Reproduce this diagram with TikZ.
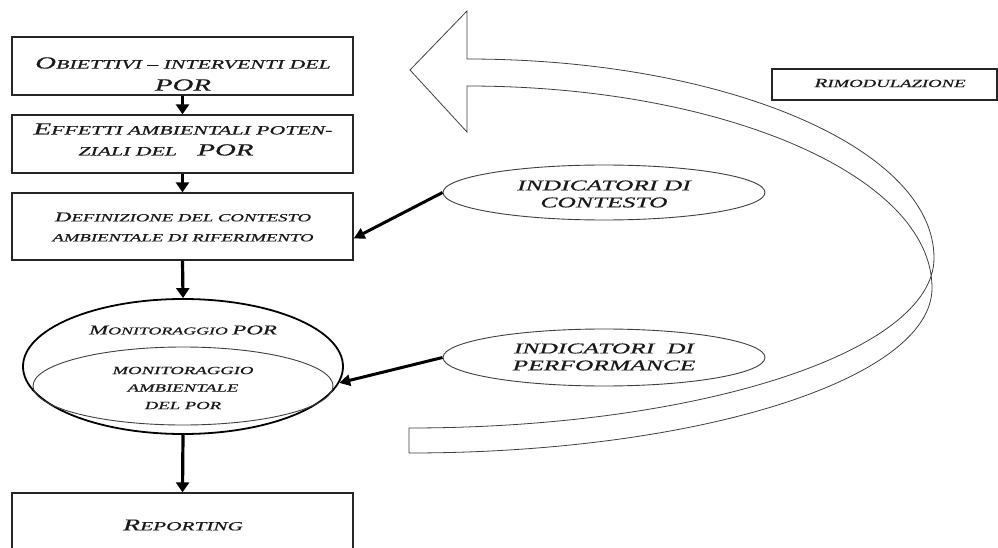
\documentclass[tikz,border=0pt]{standalone}
\usepackage{fontspec}
\setmainfont{Liberation Serif}[ItalicFeatures={FakeBold=0.4}]
\usetikzlibrary{arrows.meta,shapes.geometric}
\newcommand\W[1]{\scalebox{1.7}[1]{#1}}
\newcommand\fsz[2]{{\fontsize{#1}{#1}\selectfont #2}}
\begin{document}
\begin{tikzpicture}[x=1pt,y=-1pt,
  box/.style={draw=black!85, line width=1.3pt, rectangle, inner sep=0pt},
  oval/.style={draw=black!75, line width=0.9pt, ellipse, inner sep=0pt},
  txt/.style={inner sep=0pt, align=center, text=black!90},
  arr/.style={line width=3.2pt, -{Triangle[length=10pt,width=13pt]}},
  darr/.style={line width=3pt, -{Triangle[length=11pt,width=11pt]}},
  ribbon/.style={draw=black!75, line width=0.8pt, fill=white, line join=miter}]
\clip (0,0) rectangle (998,548);
\fill[white] (0,0) rectangle (998,548);

% curved return arrow (Rimodulazione loop)
\draw[ribbon] (467,86) -- (467,132) -- (410,70) -- (467,11) -- (467,59)
  arc[start angle=-90, end angle=0, x radius=467, y radius=199]
  arc[start angle=0, end angle=90, x radius=525, y radius=170]
  -- (409,453)
  arc[start angle=90, end angle=0, x radius=523, y radius=165]
  arc[start angle=0, end angle=-90, x radius=465, y radius=202]
  -- cycle;

% boxes
\node[box, minimum width=341pt, minimum height=58pt] (b1) at (182.5,66) {};
\node[box, minimum width=341pt, minimum height=58pt] (b2) at (182.5,144) {};
\node[box, minimum width=341pt, minimum height=67pt] (b3) at (182.5,226.5) {};
\node[box, minimum width=341pt, minimum height=70pt] (rep) at (182.5,528) {};
\node[box, minimum width=225pt, minimum height=31pt] (rim) at (884.5,84.5) {};

% ellipses
\node[oval, draw=black, line width=1.8pt, minimum width=320pt, minimum height=135pt] (mon) at (183,366.5) {};
\node[oval, minimum width=300pt, minimum height=78pt] (moninner) at (183,386) {};
\node[oval, minimum width=322pt, minimum height=55pt] (ctx) at (604,192.5) {};
\node[oval, minimum width=322pt, minimum height=57pt] (perf) at (604,357.5) {};

% texts
\node[txt, font=\itshape\fontsize{12.8}{22}\selectfont] (t1) at (183,74)
  {\W{\fsz{17}{O}\fsz{12.8}{BIETTIVI – INTERVENTI DEL}}\\
   \W{\fsz{17}{POR}}};
\node[txt, font=\itshape\fontsize{12.8}{21}\selectfont] (t2) at (183,139.5)
  {\W{\fsz{17}{E}\fsz{12.8}{FFETTI AMBIENTALI POTEN-}}\\
   \W{\fsz{12.8}{ZIALI DEL}\hspace{12pt}\fsz{17}{POR}}\hspace*{34pt}};
\node[txt, font=\itshape\fontsize{11}{20}\selectfont] (t3) at (183,227)
  {\W{\fsz{13.5}{D}\fsz{11}{EFINIZIONE DEL CONTESTO}}\\
   \W{\fsz{11}{AMBIENTALE DI RIFERIMENTO}}};
\node[txt, font=\itshape\fontsize{10.5}{14}\selectfont] (tmon) at (183,330)
  {\W{\fsz{13.5}{M}\fsz{10.5}{ONITORAGGIO }\fsz{13.5}{POR}}};
\node[txt, font=\itshape\fontsize{11}{17.5}\selectfont] (tmin) at (183,388)
  {\W{MONITORAGGIO}\\ \W{AMBIENTALE}\\ \W{DEL POR}};
\node[txt, font=\itshape\fontsize{12.5}{16}\selectfont] (trep) at (183,525)
  {\W{\fsz{16.5}{R}\fsz{12.5}{EPORTING}}};
\node[txt, font=\itshape\fontsize{11}{14}\selectfont] (trim) at (890,83)
  {\W{\fsz{12.5}{R}\fsz{11}{IMODULAZIONE}}};
\node[txt, font=\itshape\fontsize{15}{17}\selectfont] (tctx) at (604,194)
  {\W{INDICATORI DI}\\ \W{CONTESTO}};
\node[txt, font=\itshape\fontsize{15}{17}\selectfont] (tperf) at (604,357)
  {\W{INDICATORI\ \ DI}\\ \W{PERFORMANCE}};

% connectors
\draw[arr] (b1.south) -- (b2.north);
\draw[arr] (b2.south) -- (b3.north);
\draw[arr] (b3.south) -- (mon.north);
\draw[arr] (mon.south) -- (rep.north);
\draw[darr] (ctx.west) -- (b3.-4.5);
\draw[darr] (perf.west) -- (mon.-6);
\end{tikzpicture}
\end{document}
